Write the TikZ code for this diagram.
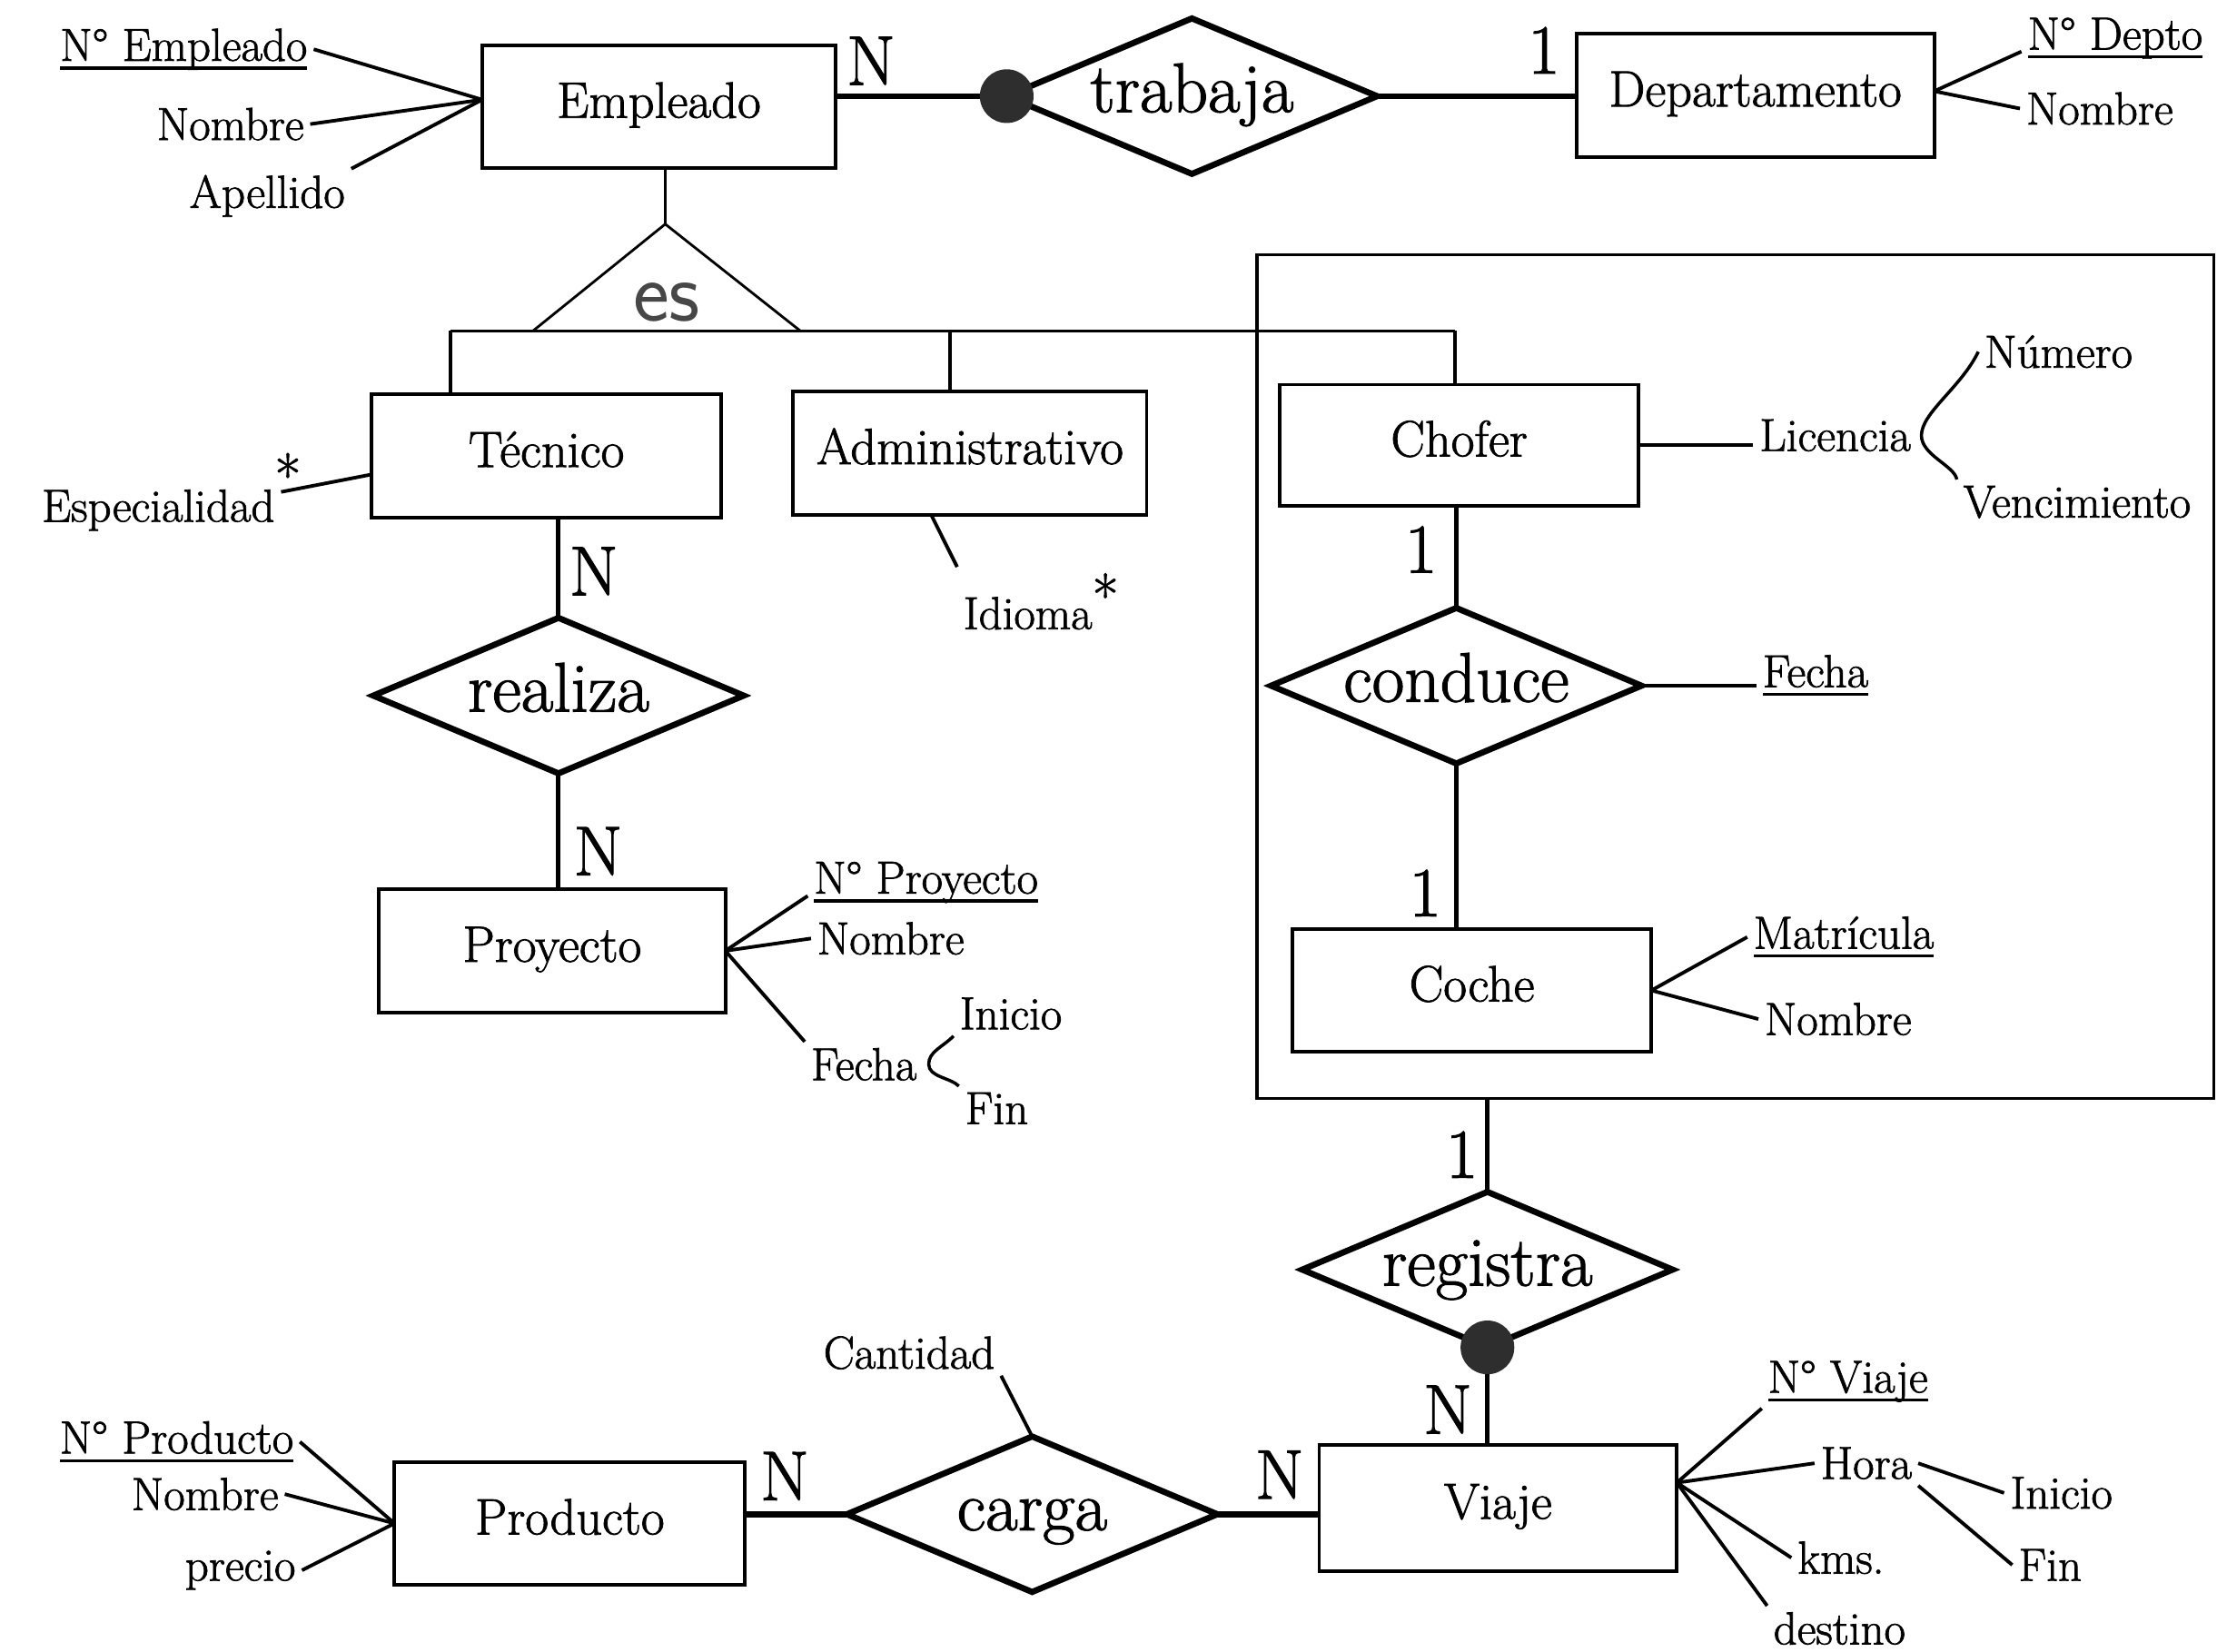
\documentclass[tikz,border=0pt]{standalone}
\usepackage{fontspec}
\setmainfont{Latin Modern Roman}[FakeBold=1.4]
\usetikzlibrary{shapes.geometric,calc}

% one drawing unit
\def\unitpx{0.015568cm}

% underlined key attribute
\newsavebox\llavebox
\newcommand{\llave}[1]{\sbox\llavebox{#1}\rlap{\rule[-2.8pt]{\wd\llavebox}{1pt}}\usebox\llavebox}
% raised asterisk of a multivalued attribute
\newcommand{\multi}[1]{\rlap{\raisebox{#1}{\fontsize{18}{18}\selectfont *}}}

\tikzset{
  entidad/.style={draw, rectangle, line width=1.1pt, minimum width=250*\unitpx,
    minimum height=87*\unitpx, inner sep=0pt, outer sep=0pt,
    font=\fontsize{16}{19}\selectfont, text height=10.9pt, text depth=4pt},
  relacion/.style={draw, diamond, aspect=2.4, line width=1.9pt, inner sep=0pt,
    outer sep=0pt, minimum width=262*\unitpx, minimum height=110*\unitpx,
    font=\fontsize{22}{26}\selectfont, text height=10pt, text depth=0pt},
  atributo/.style={inner sep=2pt, outer sep=0pt, anchor=base,
    font=\fontsize{14.5}{17}\selectfont},
  card/.style={inner sep=0pt, anchor=base, font=\fontsize{22}{26}\selectfont},
  punto/.style={circle, fill=black!82, inner sep=0pt, minimum size=38*\unitpx},
  enlace/.style={line width=1.4pt},
  enlacegrueso/.style={line width=1.9pt},
  rasgo/.style={line width=1.1pt},
  barra/.style={line width=1pt},
}

\begin{document}
\begin{tikzpicture}[x=\unitpx, y=-\unitpx]
\useasboundingbox (0,0) rectangle (1568,1168);

% ---------- aggregation frame (Chofer - conduce - Coche)
\node[draw, line width=0.9pt, minimum width=677*\unitpx, minimum height=597*\unitpx,
      inner sep=0pt, outer sep=0pt] (agregado) at (1227.5,478.5) {};

% ---------- entities
\node[entidad] (Empleado) at (466,75.5) {Empleado};
\node[entidad, minimum width=253*\unitpx] (Departamento) at (1241.5,67.5) {Departamento};
\node[entidad, minimum width=247*\unitpx] (Tecnico) at (386.5,322.5) {Técnico};
\node[entidad] (Administrativo) at (686,320.5) {Administrativo};
\node[entidad, minimum width=254*\unitpx, minimum height=86*\unitpx] (Chofer) at (1032,315) {Chofer};
\node[entidad, minimum width=245*\unitpx] (Proyecto) at (390.5,672.5) {Proyecto};
\node[entidad, minimum width=254*\unitpx] (Coche) at (1041,700.5) {Coche};
\node[entidad, minimum width=253*\unitpx, minimum height=89*\unitpx] (Viaje) at (1059.5,1066.5) {Viaje};
\node[entidad, minimum width=248*\unitpx] (Producto) at (403,1077.5) {Producto};

% ---------- relationships
\node[relacion] (trabaja) at (843,68) {trabaja};
\node[relacion] (realiza) at (395,492) {realiza};
\node[relacion] (conduce) at (1030,485) {conduce};
\node[relacion] (registra) at (1052,898) {registra};
\node[relacion] (carga) at (730,1071) {carga};

% ---------- generalization "es"
\coordinate (esTop) at (470.5,158.5);
\coordinate (esIzq) at (377,234);
\coordinate (esDer) at (566,234);
\coordinate (barTec) at (318.6,234);
\coordinate (barAdm) at (672,234);
\coordinate (barCho) at (1029,234);
\node[anchor=base, inner sep=0pt, text=black!72,
      font=\sffamily\fontsize{27}{30}\selectfont] (es) at (471.5,227) {es};
\draw[line width=1.1pt] (Empleado.south -| esTop) -- (esTop);
\draw[line width=0.8pt] (esIzq) -- (esTop) -- (esDer);
\draw[barra] (barTec) -- (barCho);
\draw[barra] (barTec) -- (barTec |- Tecnico.north);
\draw[barra] (barAdm) -- (barAdm |- Administrativo.north);
\draw[barra] (barCho) -- (barCho |- Chofer.north);

% ---------- relationship connectors
\draw[enlacegrueso] (Empleado.east |- trabaja.west) -- (trabaja.west);
\draw[enlacegrueso] (trabaja.east) -- (trabaja.east -| Departamento.west);
\draw[enlace] (realiza.north |- Tecnico.south) -- (realiza.north);
\draw[enlace] (realiza.south) -- (realiza.south |- Proyecto.north);
\draw[enlace] (conduce.north |- Chofer.south) -- (conduce.north);
\draw[enlace] (conduce.south) -- (conduce.south |- Coche.north);
\draw[enlace] (registra.north |- agregado.south) -- (registra.north);
\draw[enlace] (registra.south) -- (registra.south |- Viaje.north);
\draw[enlacegrueso] (Producto.east |- carga.west) -- (carga.west);
\draw[enlacegrueso] (carga.east) -- (carga.east -| Viaje.west);
\node[punto] (puntoT) at (trabaja.west) {};
\node[punto] (puntoR) at (registra.south) {};

% ---------- cardinalities
\node[card] (cEmp) at (616,60) {N};
\node[card] (cDep) at (1092,52) {1};
\node[card] (cTec) at (420,421) {N};
\node[card] (cProy) at (423,619) {N};
\node[card] (cCho) at (1005,405) {1};
\node[card] (cCoc) at (1008,648) {1};
\node[card] (cAgr) at (1034,833) {1};
\node[card] (cVia) at (1024,1014) {N};
\node[card] (cCarV) at (905,1060) {N};
\node[card] (cProd) at (555,1061) {N};

% ---------- attributes: Empleado
\node[atributo] (NEmp) at (130,43) {\llave{N° Empleado}};
\node[atributo] (NomEmp) at (163,99) {Nombre};
\node[atributo] (ApeEmp) at (189,147) {Apellido};
\draw[rasgo] (NEmp.east) -- ($(Empleado.west)+(0,-5)$);
\draw[rasgo] (NomEmp.east) -- ($(Empleado.west)+(0,-5)$);
\draw[rasgo] (ApeEmp.north east) -- ($(Empleado.west)+(0,-5)$);

% ---------- attributes: Departamento
\node[atributo] (NDep) at (1496,35) {\llave{N° Depto}};
\node[atributo] (NomDep) at (1485,88) {Nombre};
\draw[rasgo] ($(Departamento.east)+(0,-3)$) -- ($(NDep.west)!0.5!(NDep.south west)$);
\draw[rasgo] ($(Departamento.east)+(0,-3)$) -- (NomDep.west);

% ---------- attributes: Tecnico, Administrativo
\node[atributo] (Esp) at (112,369) {Especialidad\multi{8pt}};
\draw[rasgo] (Esp.east) -- ($(Tecnico.south west)!0.35!(Tecnico.north west)$);
\node[atributo] (Idioma) at (727,445) {Idioma\multi{4pt}};
\draw[rasgo] ($(Administrativo.south west)!0.39!(Administrativo.south east)$) -- (Idioma.north west);

% ---------- attributes: Chofer
\node[atributo] (Lic) at (1298,319) {Licencia};
\node[atributo] (Num) at (1456,260) {Número};
\node[atributo] (Venc) at (1469,366) {Vencimiento};
\draw[rasgo] (Chofer.east) -- (Chofer.east -| Lic.west);
\draw[line width=1pt] (Num.west) .. controls +(-12,25) and +(0,-16) .. ($(Lic.east)+(3,0)$)
  .. controls +(0,14) and +(-2,-10) .. (Venc.north west);

% ---------- attributes: conduce, Coche
\node[atributo] (FechaC) at (1284,486) {\llave{Fecha}};
\draw[rasgo] (conduce.east) -- (conduce.east -| FechaC.west);
\node[atributo] (Mat) at (1304,671) {\llave{Matrícula}};
\node[atributo] (NomCoc) at (1300,732) {Nombre};
\draw[rasgo] (Coche.east) -- (Mat.west);
\draw[rasgo] (Coche.east) -- (NomCoc.west);

% ---------- attributes: Proyecto
\node[atributo] (NProy) at (655,632) {\llave{N° Proyecto}};
\node[atributo] (NomProy) at (630,675) {Nombre};
\node[atributo] (FechaP) at (611,764) {Fecha};
\node[atributo] (IniP) at (715,728) {Inicio};
\node[atributo] (FinP) at (705,795) {Fin};
\draw[rasgo] (Proyecto.east) -- ($(NProy.west)!0.5!(NProy.south west)$);
\draw[rasgo] (Proyecto.east) -- (NomProy.west);
\draw[rasgo] (Proyecto.east) -- (FechaP.north west);
\draw[line width=1pt] (IniP.south west) .. controls +(-8,8) and +(0,-9) .. ($(FechaP.east)+(4,0)$)
  .. controls +(0,9) and +(-6,-6) .. (FinP.north west);

% ---------- attributes: carga, Producto
\node[atributo] (Cant) at (643,968) {Cantidad};
\draw[rasgo] (carga.north) -- (Cant.south east);
\node[atributo] (NProd) at (125,1028) {\llave{N° Producto}};
\node[atributo] (NomProd) at (145,1068) {Nombre};
\node[atributo] (Precio) at (170,1118) {precio};
\draw[rasgo] (NProd.east) -- (Producto.west);
\draw[rasgo] (NomProd.east) -- (Producto.west);
\draw[rasgo] (Precio.east) -- (Producto.west);

% ---------- attributes: Viaje
\coordinate (vj) at ($(Viaje.north east)!0.3!(Viaje.south east)$);
\node[atributo] (NVia) at (1307,985) {\llave{N° Viaje}};
\node[atributo] (Hora) at (1320,1046) {Hora};
\node[atributo] (IniV) at (1458,1067) {Inicio};
\node[atributo] (FinV) at (1450,1118) {Fin};
\node[atributo] (Kms) at (1302,1113) {kms.};
\node[atributo] (Destino) at (1301,1163) {destino};
\draw[rasgo] (vj) -- (NVia.south west);
\draw[rasgo] (vj) -- (Hora.west);
\draw[rasgo] (Hora.east) -- (IniV.west);
\draw[rasgo] (Hora.south east) -- (FinV.west);
\draw[rasgo] (vj) -- (Kms.west);
\draw[rasgo] (vj) -- (Destino.north west);
\end{tikzpicture}
\end{document}
